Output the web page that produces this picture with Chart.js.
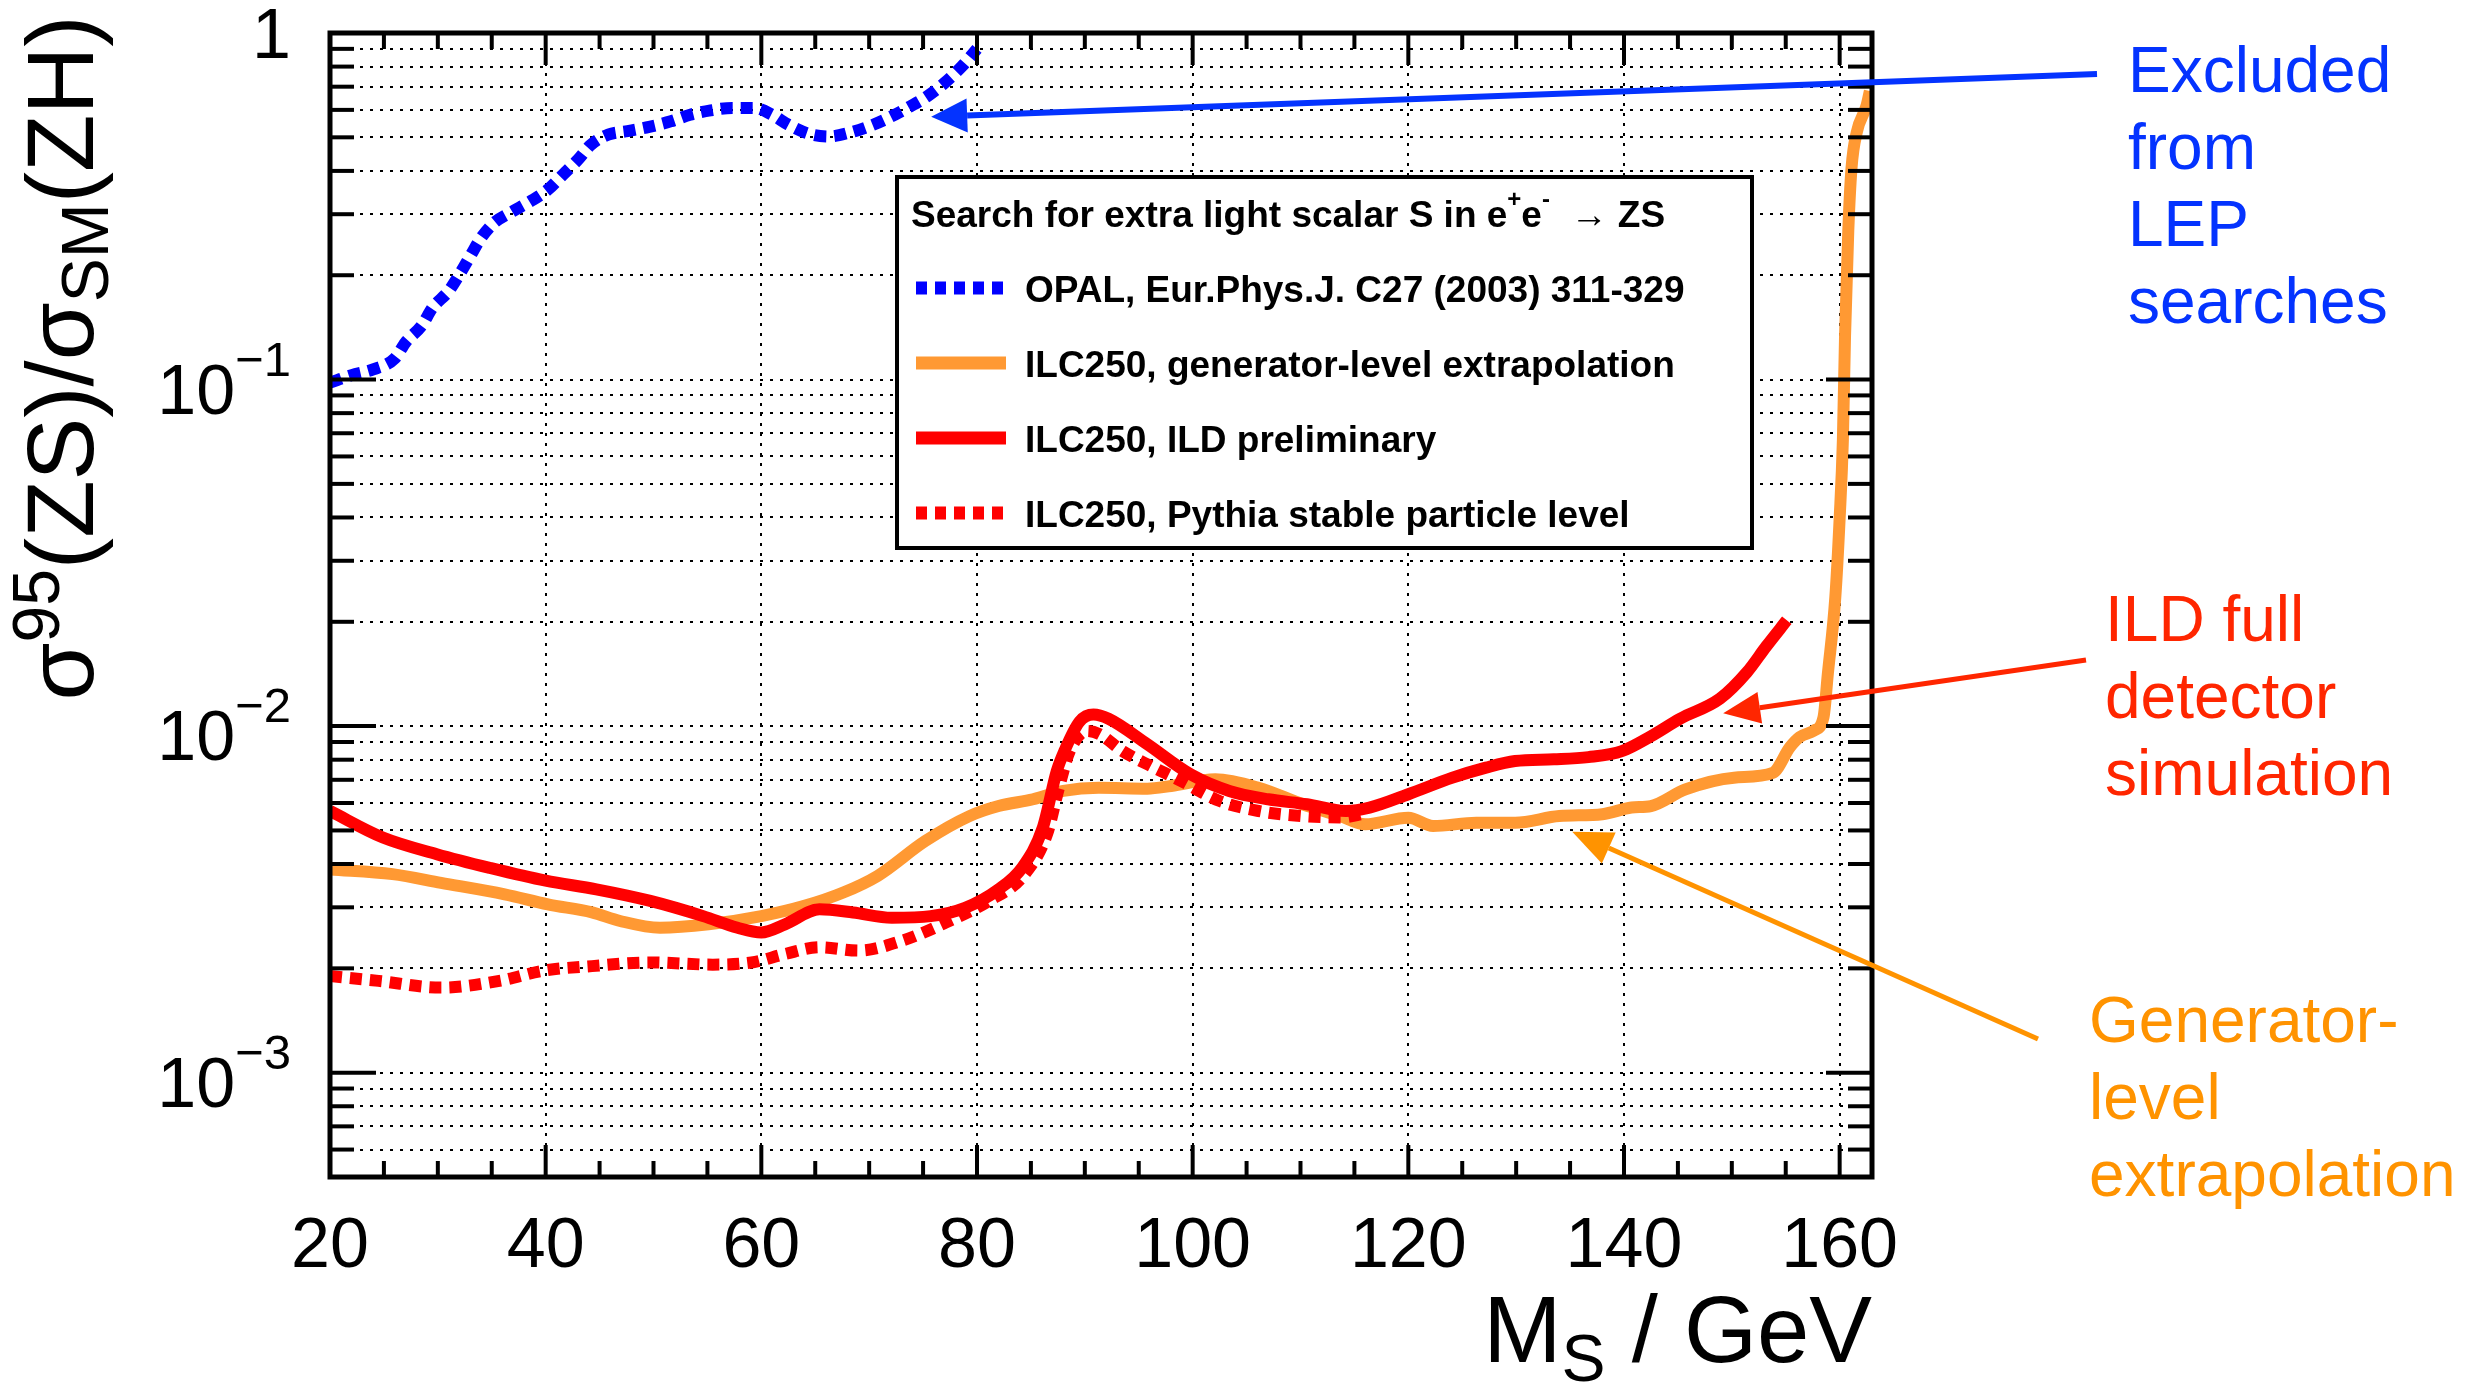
<!DOCTYPE html>
<html lang="en">
<head>
<meta charset="UTF-8">
<title>Extra light scalar search: cross-section limits</title>
<script src="https://cdn.jsdelivr.net/npm/chart.js@4.4.1/dist/chart.umd.min.js"></script>
<style>
  html, body { margin: 0; padding: 0; background: #fff; }
  canvas { display: block; }
</style>
</head>
<body>
<canvas id="limitChart" width="2467" height="1390"></canvas>
<script>
    // ---- axes ----
    const xMajorTicks = [20, 40, 60, 80, 100, 120, 140, 160];
    const xTickLabels = ['20', '40', '60', '80', '100', '120', '140', '160'];
    const yDecades = [1, 1e-1, 1e-2, 1e-3];
    const yDecadeLabels = [['1', ''], ['10', '\u22121'], ['10', '\u22122'], ['10', '\u22123']];

    // ---- OPAL, Eur.Phys.J. C27 (2003) 311-329 ----
    const opalMass = [20, 22, 24, 26, 27, 28.5, 29.5, 31, 32, 33, 34, 35.2, 36.8, 38.6, 40.2, 41.6, 43, 44.2, 45.8,
        47.6, 49.6, 51.6, 53.4, 55.3, 57.3, 59.3, 61, 62.5, 64.5, 66.3, 68.1, 70, 71.8, 73.8, 75.4, 77, 78.6, 80];
    const opalLimit = [0.098, 0.103, 0.107, 0.115, 0.128, 0.143, 0.161, 0.180, 0.201, 0.227, 0.256, 0.283, 0.304, 0.327,
        0.353, 0.390, 0.431, 0.476, 0.509, 0.521, 0.536, 0.556, 0.581, 0.598, 0.608, 0.608, 0.581, 0.544, 0.511, 0.503,
        0.515, 0.538, 0.569, 0.614, 0.657, 0.718, 0.801, 0.90];

    // ---- ILC250, generator-level extrapolation ----
    const genMass = [20, 25.8, 30.3, 36.2, 40.2, 44.3, 46.9, 50.6, 55.1, 60, 64, 67.6, 70.8, 75.2, 79.3, 82, 85.2, 88,
        91.3, 95.8, 98, 102.1, 106.1, 110.2, 113.7, 116, 120, 122.3, 126.3, 129.9, 134, 138, 140.7, 142.5, 145.7, 150.2,
        153.8, 155.4, 156.3, 157.6, 158.5, 158.9, 159.6, 160, 160.3, 160.5, 160.8, 161.1, 161.6, 162.5, 162.8];
    const genLimit = [3.86e-3, 3.74e-3, 3.53e-3, 3.27e-3, 3.06e-3, 2.90e-3, 2.74e-3, 2.62e-3, 2.68e-3, 2.83e-3, 3.03e-3,
        3.31e-3, 3.70e-3, 4.66e-3, 5.50e-3, 5.88e-3, 6.15e-3, 6.50e-3, 6.64e-3, 6.60e-3, 6.72e-3, 7.02e-3, 6.64e-3,
        5.95e-3, 5.50e-3, 5.21e-3, 5.44e-3, 5.15e-3, 5.26e-3, 5.26e-3, 5.50e-3, 5.57e-3, 5.82e-3, 5.88e-3, 6.57e-3,
        7.10e-3, 7.33e-3, 8.7e-3, 9.3e-3, 9.7e-3, 1.06e-2, 1.41e-2, 2.36e-2, 3.98e-2, 6.70e-2, 0.134, 0.268, 0.407,
        0.519, 0.618, 0.68];

    // ---- ILC250, ILD preliminary ----
    const ildMass = [20, 24.9, 29.9, 34.8, 40, 44.7, 49.7, 54.6, 57.8, 60, 62.2, 65.4, 68.5, 72.1, 75.7, 78.9, 82, 84.2,
        86.1, 87.4, 88.1, 89.5, 90.8, 92.2, 95.8, 99.8, 103.4, 107, 110.6, 114.2, 116.4, 120, 124.1, 127.2, 129.9, 133.5,
        136.7, 139.8, 142.5, 145.2, 148.9, 151.4, 153.2, 155.1];
    const ildLimit = [5.69e-3, 4.77e-3, 4.27e-3, 3.90e-3, 3.58e-3, 3.38e-3, 3.13e-3, 2.83e-3, 2.62e-3, 2.54e-3, 2.68e-3,
        2.96e-3, 2.90e-3, 2.80e-3, 2.83e-3, 2.99e-3, 3.38e-3, 3.91e-3, 5.09e-3, 7.42e-3, 8.47e-3, 1.03e-2, 1.08e-2,
        1.05e-2, 8.86e-3, 7.26e-3, 6.50e-3, 6.15e-3, 5.95e-3, 5.69e-3, 5.82e-3, 6.36e-3, 7.10e-3, 7.59e-3, 7.93e-3,
        8.02e-3, 8.14e-3, 8.47e-3, 9.35e-3, 1.05e-2, 1.2e-2, 1.43e-2, 1.70e-2, 2.02e-2];

    // ---- ILC250, Pythia stable particle level ----
    const pythiaMass = [20, 24.5, 30.3, 35.7, 39.8, 44.3, 49.7, 55.5, 59.1, 62.2, 65.4, 69, 73, 77.1, 81.1, 84.3, 86.5,
        87.6, 88.6, 90.2, 91.3, 93.5, 95.8, 98.9, 102.5, 106.1, 110.2, 113.7, 116];
    const pythiaLimit = [1.90e-3, 1.84e-3, 1.76e-3, 1.84e-3, 1.97e-3, 2.03e-3, 2.08e-3, 2.05e-3, 2.08e-3, 2.20e-3,
        2.30e-3, 2.25e-3, 2.40e-3, 2.71e-3, 3.13e-3, 3.70e-3, 4.88e-3, 6.64e-3, 8.47e-3, 9.68e-3, 9.5e-3, 8.47e-3,
        7.76e-3, 6.95e-3, 6.08e-3, 5.69e-3, 5.50e-3, 5.45e-3, 5.6e-3];

    // colours
    const blueCurve = '#0000ff';
    const orangeCurve = '#ff9933';
    const redCurve = '#ff0000';
    const noteBlue = '#0433ff';
    const noteRed = '#ff2600';
    const noteOrange = '#ff9300';
    const FONT = "'Liberation Sans', Arimo, Helvetica, Arial, sans-serif";

    // minor ticks
    const xMinorTicks = [];
    for (let v = 20; v <= 160; v += 5) xMinorTicks.push(v);
    const yGridValues = [];
    [1e-4, 1e-3, 1e-2, 1e-1].forEach(d => {
        for (let m = 1; m <= 9; m++) {
            const v = +(m * d).toPrecision(3);
            if (v >= 5e-4 && v <= 1) yGridValues.push(v);
        }
    });
    yGridValues.push(1);

    const toPoints = (xs, ys) => xs.map((x, i) => ({ x: x, y: ys[i] }));

    function richWidth(ctx, parts) {
        let w = 0;
        parts.forEach(p => { ctx.font = p.font; w += ctx.measureText(p.text).width; });
        return w;
    }

    function drawRich(ctx, parts, x, y, align) {
        const w = richWidth(ctx, parts);
        let cx = align === 'right' ? x - w : (align === 'center' ? x - w / 2 : x);
        ctx.textAlign = 'left';
        ctx.textBaseline = 'alphabetic';
        parts.forEach(p => {
            ctx.font = p.font;
            ctx.fillText(p.text, cx, y + (p.dy || 0));
            cx += ctx.measureText(p.text).width;
        });
    }

    function arrow(ctx, x0, y0, x1, y1, color, width, headLen, headHalf) {
        const ang = Math.atan2(y1 - y0, x1 - x0);
        const bx = x1 - headLen * Math.cos(ang);
        const by = y1 - headLen * Math.sin(ang);
        ctx.strokeStyle = color;
        ctx.fillStyle = color;
        ctx.lineWidth = width;
        ctx.setLineDash([]);
        ctx.beginPath();
        ctx.moveTo(x0, y0);
        ctx.lineTo(bx, by);
        ctx.stroke();
        ctx.beginPath();
        ctx.moveTo(x1, y1);
        ctx.lineTo(bx + headHalf * Math.sin(ang), by - headHalf * Math.cos(ang));
        ctx.lineTo(bx - headHalf * Math.sin(ang), by + headHalf * Math.cos(ang));
        ctx.closePath();
        ctx.fill();
    }

    function segment(ctx, x0, y0, x1, y1) {
        ctx.beginPath();
        ctx.moveTo(x0, y0);
        ctx.lineTo(x1, y1);
        ctx.stroke();
    }

    // frame, ticks, labels, legend and notes in the ROOT look
    const rootStyle = {
        id: 'rootStyle',
        afterDraw(chart) {
            const ctx = chart.ctx;
            const a = chart.chartArea;
            const xs = chart.scales.x;
            const ys = chart.scales.y;
            ctx.save();
            ctx.setLineDash([]);
            ctx.strokeStyle = '#000';
            ctx.lineWidth = 4;

            // x ticks top and bottom
            xMinorTicks.forEach(v => {
                const px = xs.getPixelForValue(v);
                const len = xMajorTicks.includes(v) ? 32 : 16;
                segment(ctx, px, a.bottom, px, a.bottom - len);
                segment(ctx, px, a.top, px, a.top + len);
            });
            // y ticks left and right
            yGridValues.forEach(v => {
                const py = ys.getPixelForValue(v);
                const len = yDecades.includes(v) ? 46 : 24;
                segment(ctx, a.left, py, a.left + len, py);
                segment(ctx, a.right, py, a.right - len, py);
            });

            // frame
            ctx.lineWidth = 5;
            ctx.strokeRect(a.left, a.top, a.right - a.left, a.bottom - a.top);

            // tick labels
            ctx.fillStyle = '#000';
            const big = '70px ' + FONT;
            const small = '49px ' + FONT;
            xMajorTicks.forEach((v, i) => {
                drawRich(ctx, [{ text: xTickLabels[i], font: big }], xs.getPixelForValue(v), 1267, 'center');
            });
            yDecades.forEach((v, i) => {
                const py = ys.getPixelForValue(v);
                const lab = yDecadeLabels[i];
                if (lab[1] === '') {
                    drawRich(ctx, [{ text: lab[0], font: big, dy: 25 }], 291, py, 'right');
                } else {
                    drawRich(ctx, [{ text: lab[0], font: big, dy: 34 }, { text: lab[1], font: small, dy: -4 }], 291, py, 'right');
                }
            });

            // axis titles
            const tBig = '94px ' + FONT;
            const tSmall = '66px ' + FONT;
            drawRich(ctx, [
                { text: 'M', font: tBig },
                { text: 'S', font: tSmall, dy: 19 },
                { text: ' / GeV', font: tBig }
            ], a.right, 1362, 'right');

            ctx.save();
            ctx.translate(93, 358);
            ctx.rotate(-Math.PI / 2);
            drawRich(ctx, [
                { text: '\u03c3', font: tBig },
                { text: '95', font: tSmall, dy: -34 },
                { text: '(ZS)/\u03c3', font: tBig },
                { text: 'SM', font: tSmall, dy: 15 },
                { text: '(ZH)', font: tBig }
            ], 0, 0, 'center');
            ctx.restore();

            // legend box
            const lx0 = 897, ly0 = 177, lx1 = 1752, ly1 = 548;
            ctx.fillStyle = '#fff';
            ctx.fillRect(lx0, ly0, lx1 - lx0, ly1 - ly0);
            ctx.strokeStyle = '#000';
            ctx.lineWidth = 4;
            ctx.strokeRect(lx0, ly0, lx1 - lx0, ly1 - ly0);

            const lf = 'bold 37px ' + FONT;
            const lfs = 'bold 24px ' + FONT;
            ctx.fillStyle = '#000';
            drawRich(ctx, [
                { text: 'Search for extra light scalar S in e', font: lf },
                { text: '+', font: lfs, dy: -20 },
                { text: 'e', font: lf },
                { text: '-', font: lfs, dy: -20 },
                { text: '  \u2192 ZS', font: lf }
            ], 911, 227, 'left');

            const entries = [
                { label: 'OPAL, Eur.Phys.J. C27 (2003) 311-329', color: blueCurve, dash: [11, 8] },
                { label: 'ILC250, generator-level extrapolation', color: orangeCurve, dash: [] },
                { label: 'ILC250, ILD preliminary', color: redCurve, dash: [] },
                { label: 'ILC250, Pythia stable particle level', color: redCurve, dash: [11, 8] }
            ];
            entries.forEach((e, i) => {
                const base = 302 + i * 75;
                ctx.strokeStyle = e.color;
                ctx.lineWidth = 13;
                ctx.lineCap = 'butt';
                ctx.setLineDash(e.dash);
                segment(ctx, 916, base - 14, 1006, base - 14);
                ctx.setLineDash([]);
                ctx.fillStyle = '#000';
                drawRich(ctx, [{ text: e.label, font: lf }], 1025, base, 'left');
            });

            // notes on the right
            const nf = '64px ' + FONT;
            const notes = [
                { lines: ['Excluded', 'from', 'LEP', 'searches'], color: noteBlue, x: 2128, y: 92 },
                { lines: ['ILD full', 'detector', 'simulation'], color: noteRed, x: 2105, y: 641 },
                { lines: ['Generator-', 'level', 'extrapolation'], color: noteOrange, x: 2089, y: 1042 }
            ];
            notes.forEach(n => {
                ctx.fillStyle = n.color;
                n.lines.forEach((t, i) => drawRich(ctx, [{ text: t, font: nf }], n.x, n.y + i * 77, 'left'));
            });

            // arrows, tips anchored on the data scales
            arrow(ctx, 2097, 74, xs.getPixelForValue(75.75), ys.getPixelForValue(0.573), noteBlue, 6, 36, 17);
            arrow(ctx, 2086, 660, xs.getPixelForValue(149.2), ys.getPixelForValue(0.0109), noteRed, 5, 37, 16);
            arrow(ctx, 2038, 1039, xs.getPixelForValue(135.2), ys.getPixelForValue(4.96e-3), noteOrange, 5, 40, 17);

            ctx.restore();
        }
    };

    const gridOpts = { color: '#000', lineWidth: 2, drawTicks: false };

    new Chart(document.getElementById('limitChart'), {
        type: 'line',
        data: {
            datasets: [
                { label: 'OPAL', data: toPoints(opalMass, opalLimit), borderColor: blueCurve, borderWidth: 12, borderDash: [12, 8] },
                { label: 'ILD preliminary', data: toPoints(ildMass, ildLimit), borderColor: redCurve, borderWidth: 12 },
                { label: 'Pythia stable particle level', data: toPoints(pythiaMass, pythiaLimit), borderColor: redCurve, borderWidth: 12, borderDash: [12, 8] },
                { label: 'generator-level extrapolation', data: toPoints(genMass, genLimit), borderColor: orangeCurve, borderWidth: 12 }
            ]
        },
        options: {
            responsive: false,
            devicePixelRatio: 1,
            animation: false,
            layout: { padding: { top: 33, right: 595, bottom: 0, left: 0 } },
            elements: {
                point: { radius: 0 },
                line: { cubicInterpolationMode: 'monotone', borderCapStyle: 'butt', borderJoinStyle: 'round', fill: false }
            },
            plugins: { legend: { display: false }, tooltip: { enabled: false } },
            scales: {
                x: {
                    type: 'linear', min: 20, max: 163,
                    afterBuildTicks: s => { s.ticks = xMajorTicks.map(v => ({ value: v })); },
                    afterFit: s => { s.height = 213; },
                    ticks: { display: false },
                    grid: gridOpts,
                    border: { display: false, dash: [3, 7] }
                },
                y: {
                    type: 'logarithmic', min: 5e-4, max: 1,
                    afterBuildTicks: s => { s.ticks = yGridValues.map(v => ({ value: v })); },
                    afterFit: s => { s.width = 330; },
                    ticks: { display: false },
                    grid: gridOpts,
                    border: { display: false, dash: [3, 7] }
                }
            }
        },
        plugins: [rootStyle]
    });
</script>
</body>
</html>
